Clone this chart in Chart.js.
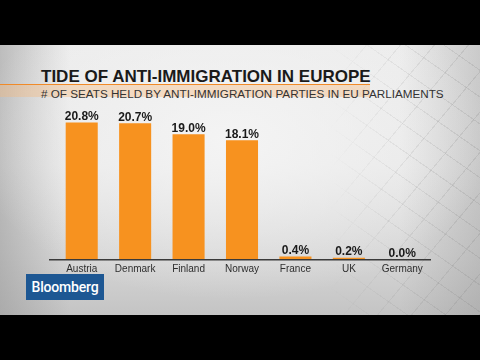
<!DOCTYPE html>
<html>
<head>
<meta charset="utf-8">
<script src="https://cdn.jsdelivr.net/npm/chart.js@4.4.1/dist/chart.umd.min.js"></script>
<style>
  html, body { margin: 0; padding: 0; background: #000; }
  #wrap { position: relative; width: 480px; height: 360px; overflow: hidden; background: #000; }
  #photo {
    position: absolute; left: 0; top: 45px; width: 480px; height: 270px;
    background:
      radial-gradient(ellipse 260px 160px at 230px 95px, rgba(245,245,245,0.9), rgba(245,245,245,0) 100%),
      linear-gradient(90deg, rgba(150,150,150,0.55) 0px, rgba(150,150,150,0) 70px, rgba(150,150,150,0) 400px, rgba(140,140,140,0.35) 480px),
      linear-gradient(180deg, #ececec 0px, #e8e8e8 120px, #d6d6d6 210px, #c4c4c4 270px);
  }
  #lattice {
    position: absolute; left: 330px; top: 45px; width: 150px; height: 270px;
    background:
      repeating-linear-gradient(35deg, rgba(120,120,120,0.18) 0px, rgba(120,120,120,0.18) 1px, transparent 1px, transparent 22px),
      repeating-linear-gradient(-50deg, rgba(120,120,120,0.18) 0px, rgba(120,120,120,0.18) 1px, transparent 1px, transparent 26px);
    -webkit-mask-image: linear-gradient(90deg, transparent 0%, rgba(0,0,0,0.6) 45%, #000 100%);
    mask-image: linear-gradient(90deg, transparent 0%, rgba(0,0,0,0.6) 45%, #000 100%);
  }
  #band {
    position: absolute; left: 0; top: 85px; width: 370px; height: 12px;
    background: radial-gradient(rgba(240,150,60,0.28) 0.6px, transparent 0.8px) 0 0 / 2px 2px, rgba(250,200,150,0.28);
  }
  #rule { position: absolute; left: 0; top: 83.5px; width: 370px; height: 1.5px; background: #f08a28; }
  #title {
    position: absolute; left: 41px; top: 68px; white-space: nowrap;
    font: bold 17px/17px "Liberation Sans", Arial, sans-serif; color: #1a1a1a;
  }
  #subtitle {
    position: absolute; left: 41px; top: 87.6px; white-space: nowrap;
    font: 11.7px/12px "Liberation Sans", Arial, sans-serif; color: #333;
  }
  #logo {
    position: absolute; left: 26px; top: 274px; width: 78px; height: 26px;
    background: #1d5793; color: #fff; box-sizing: border-box;
    font: 500 14px/26px Roboto, "Liberation Sans", sans-serif; text-align: center; letter-spacing: -0.2px;
  }
  #c { position: absolute; left: 0; top: 0; }
</style>
</head>
<body>
<div id="wrap">
  <div id="photo"></div>
  <div id="lattice"></div>
  <div id="band"></div>
  <div id="rule"></div>
  <div id="title">TIDE OF ANTI-IMMIGRATION IN EUROPE</div>
  <div id="subtitle"># OF SEATS HELD BY ANTI-IMMIGRATION PARTIES IN EU PARLIAMENTS</div>
  <canvas id="c" width="480" height="360"></canvas>
  <div id="logo">Bloomberg</div>
</div>
<script>
const categories = ['Austria', 'Denmark', 'Finland', 'Norway', 'France', 'UK', 'Germany'];
const seatShares = [20.8, 20.7, 19.0, 18.1, 0.4, 0.2, 0.0];
const valueLabels = ['20.8%', '20.7%', '19.0%', '18.1%', '0.4%', '0.2%', '0.0%'];

const valueLabelPlugin = {
  id: 'valueLabels',
  afterDatasetsDraw(chart) {
    const ctx = chart.ctx;
    const meta = chart.getDatasetMeta(0);
    ctx.save();
    ctx.font = 'bold 12px "Liberation Sans", Arial, sans-serif';
    ctx.fillStyle = '#1a1a1a';
    ctx.textAlign = 'center';
    ctx.textBaseline = 'alphabetic';
    meta.data.forEach((bar, i) => {
      ctx.fillText(valueLabels[i], bar.x, bar.y - 2.5);
    });
    ctx.restore();
  }
};

const axisLinePlugin = {
  id: 'axisLine',
  afterDatasetsDraw(chart) {
    const { ctx, chartArea } = chart;
    ctx.save();
    ctx.strokeStyle = '#3a3a3a';
    ctx.lineWidth = 1.5;
    ctx.beginPath();
    ctx.moveTo(chartArea.left - 6, chartArea.bottom + 0.75);
    ctx.lineTo(chartArea.right + 2, chartArea.bottom + 0.75);
    ctx.stroke();
    ctx.restore();
  }
};

new Chart(document.getElementById('c'), {
  type: 'bar',
  data: {
    labels: categories,
    datasets: [{
      data: seatShares,
      backgroundColor: '#f7921f',
      borderWidth: 0,
      barPercentage: 0.6,
      categoryPercentage: 1.0
    }]
  },
  options: {
    responsive: false,
    animation: false,
    events: [],
    layout: { padding: { left: 55, right: 51, top: 95, bottom: 61 } },
    plugins: { legend: { display: false }, tooltip: { enabled: false }, title: { display: false } },
    scales: {
      x: {
        grid: { display: false, drawTicks: false },
        border: { display: false },
        ticks: {
          color: '#2e2e2e',
          padding: 4,
          font: { family: '"Liberation Sans", Arial, sans-serif', size: 10 },
          maxRotation: 0
        },
        afterFit(scale) { scale.height = 40; }
      },
      y: {
        display: false,
        min: 0,
        max: 25
      }
    }
  },
  plugins: [valueLabelPlugin, axisLinePlugin]
});
</script>
</body>
</html>
